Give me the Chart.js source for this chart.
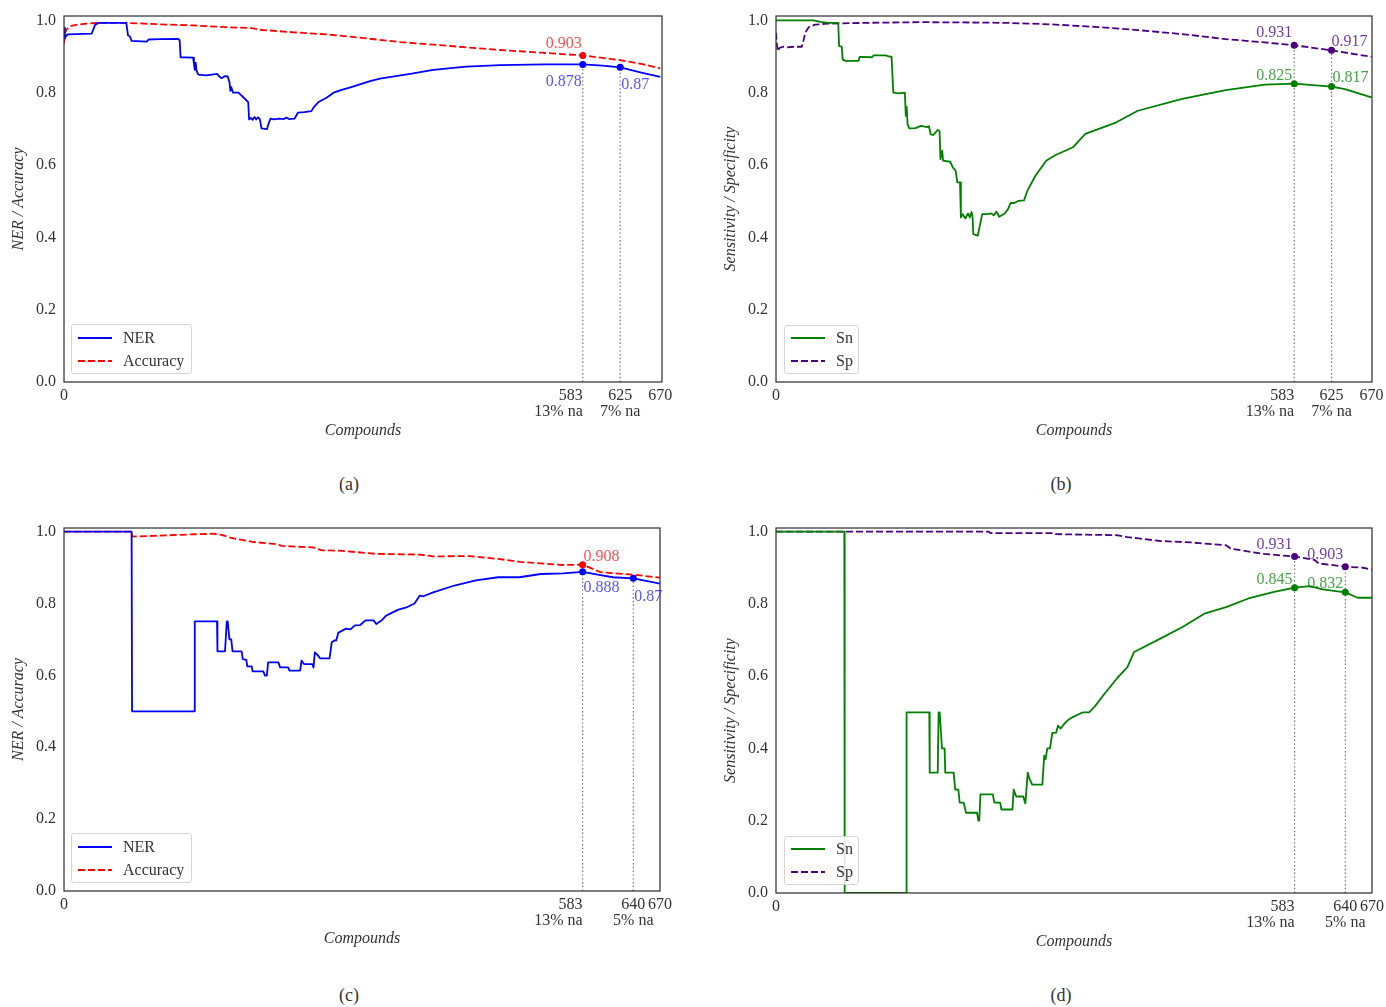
<!DOCTYPE html>
<html><head><meta charset="utf-8">
<script src="https://cdn.jsdelivr.net/npm/chart.js@4"></script>
<style>
html,body{margin:0;padding:0;background:#fff;}
#page{position:relative;width:1386px;height:1007px;overflow:hidden;font-family:'Liberation Serif','DejaVu Serif',serif;color:#333;}
#page canvas{position:absolute;}
.cap{position:absolute;width:80px;margin-left:-40px;text-align:center;font-size:18px;line-height:20px;}
.lg{position:absolute;box-sizing:border-box;border:1px solid #d4d4d4;border-radius:3px;background:rgba(255,255,255,0.85);}
.lg .it{position:absolute;left:0;right:0;height:20px;}
.lg svg{position:absolute;left:6px;top:8px;}
.lg span{position:absolute;left:51px;top:0;line-height:20px;font-size:16px;white-space:nowrap;}
</style></head>
<body><div id="page"></div>
<script>
// ---------------- DATA ----------------
const yTickValues = [0, 0.2, 0.4, 0.6, 0.8, 1.0];
const xTicksAB = [0, 583, 625, 670];
const xNotesAB = ['', '13% na', '7% na', ''];
const xTicksCD = [0, 583, 640, 670];
const xNotesCD = ['', '13% na', '5% na', ''];

// (a) NER / Accuracy
const nerA_x = [0,1,2,4,31,33,35,39,70,71,72,74,76,93,95,108,128,130,131,145,146,147,148,149,151,160,172,174,177,181,184,186,187,188,190,196,199,202,207,208,210,212,214,216,218,220,222,228,230,232,236,242,247,250,253,259,263,270,278,281,286,295,303,312,321,344,355,389,415,452,490,540,583,605,625,650,670];
const nerA_y = [0.98,0.95,0.955,0.961,0.963,0.975,0.988,0.993,0.993,0.975,0.958,0.956,0.943,0.941,0.947,0.948,0.949,0.945,0.898,0.897,0.880,0.863,0.883,0.860,0.850,0.848,0.852,0.846,0.840,0.846,0.845,0.828,0.805,0.815,0.800,0.800,0.793,0.786,0.774,0.726,0.730,0.725,0.733,0.726,0.732,0.727,0.701,0.699,0.715,0.728,0.726,0.728,0.727,0.731,0.727,0.728,0.745,0.746,0.749,0.761,0.774,0.786,0.800,0.808,0.814,0.832,0.839,0.852,0.863,0.872,0.876,0.878,0.878,0.875,0.870,0.855,0.844];
const accA_x = [0,1,3,7,15,25,40,70,108,145,183,209,220,258,295,321,378,434,490,540,583,625,650,670];
const accA_y = [0.935,0.965,0.975,0.984,0.988,0.991,0.993,0.993,0.989,0.986,0.981,0.979,0.974,0.967,0.961,0.955,0.940,0.929,0.918,0.910,0.903,0.890,0.879,0.867];
const markA_x = [583, 625];
const markA_ner = [0.878, 0.87];
const markA_accX = [583];
const markA_acc = [0.903];

// (b) Sensitivity / Specificity
const snB_x = [0,42,50,59,70,71,74,75,78,93,94,108,110,123,128,130,132,138,145,146,147,148,150,157,163,170,172,174,177,182,184,185,187,188,196,199,202,204,207,208,210,213,216,218,220,221,222,227,232,238,242,245,248,251,257,261,264,268,273,279,283,292,304,314,334,348,383,407,457,506,550,583,625,640,670];
const snB_y = [1.0,1.0,0.996,0.993,0.993,0.929,0.927,0.892,0.888,0.888,0.899,0.898,0.903,0.903,0.900,0.899,0.800,0.798,0.800,0.736,0.761,0.713,0.701,0.702,0.708,0.705,0.707,0.685,0.683,0.697,0.694,0.616,0.640,0.612,0.609,0.593,0.585,0.552,0.552,0.455,0.464,0.452,0.466,0.455,0.470,0.460,0.409,0.405,0.464,0.464,0.466,0.461,0.471,0.457,0.465,0.478,0.495,0.495,0.501,0.502,0.530,0.571,0.612,0.627,0.649,0.686,0.718,0.750,0.783,0.807,0.822,0.825,0.817,0.810,0.787];
const spB_x = [0,1,2,4,8,12,20,29,31,33,37,44,57,100,161,220,260,309,358,407,457,506,550,583,625,670];
const spB_y = [0.966,0.933,0.915,0.924,0.927,0.925,0.927,0.927,0.945,0.966,0.982,0.988,0.991,0.993,0.995,0.994,0.993,0.989,0.982,0.973,0.962,0.948,0.939,0.931,0.917,0.899];
const markB_x = [583, 625];
const markB_sn = [0.825, 0.817];
const markB_sp = [0.931, 0.917];

// (c) NER / Accuracy
const nerC_x = [0,76,76.5,146.5,147,172,172.5,181,183,184,186,188,189.5,199.7,201,205,206,211,212,224,226,228,229.5,241,243,252,253.5,265.5,267,270,279,280.5,282,285,288,298.5,301,304,306,308.5,317,322,327,333,339,348,351,358,362,366,376,386,394,400,404,415,439,463,488,512,536,561,583,600,617,640,670];
const nerC_y = [1.0,1.0,0.5,0.5,0.75,0.75,0.667,0.667,0.75,0.75,0.70,0.70,0.667,0.667,0.645,0.643,0.625,0.625,0.611,0.611,0.599,0.599,0.636,0.636,0.622,0.622,0.613,0.613,0.641,0.631,0.631,0.622,0.664,0.657,0.647,0.647,0.692,0.697,0.697,0.719,0.730,0.728,0.739,0.740,0.753,0.753,0.743,0.755,0.766,0.771,0.783,0.790,0.800,0.822,0.820,0.831,0.850,0.864,0.873,0.873,0.882,0.884,0.888,0.880,0.873,0.870,0.855];
const accC_x = [0,76,77,100,140,170,178,187,213,239,245,280,290,310,351,400,415,456,488,512,561,583,603,640,670];
const accC_y = [1.0,1.0,0.986,0.988,0.992,0.994,0.990,0.983,0.971,0.965,0.960,0.956,0.948,0.947,0.938,0.936,0.931,0.932,0.924,0.916,0.907,0.908,0.887,0.880,0.872];
const markC_x = [583, 640];
const markC_ner = [0.888, 0.87];
const markC_accX = [583];
const markC_acc = [0.908];

// (d) Sensitivity / Specificity
const snD_x = [0,76.8,77.2,146.4,146.8,172.3,172.8,181.8,182.8,184,186.6,189.5,190.3,199.7,201.5,205,206.5,211,213.6,226,227.5,228.5,229.8,243.7,245.5,252,253.4,265.8,267.2,270,278,280.3,283,285,288,299.4,301.5,303,305,308,310.6,315,317,320,324,328,333,345,352,358,368,383,395,402.6,432,457,481.5,506,531,560,583,600,614.5,640,654,670];
const snD_y = [1.0,1.0,0.0,0.0,0.5,0.5,0.333,0.333,0.5,0.5,0.4,0.4,0.333,0.333,0.286,0.286,0.25,0.25,0.222,0.222,0.2,0.2,0.273,0.273,0.25,0.25,0.231,0.231,0.286,0.267,0.267,0.248,0.333,0.316,0.3,0.3,0.38,0.37,0.4,0.4,0.443,0.444,0.463,0.455,0.468,0.478,0.486,0.5,0.5,0.515,0.547,0.593,0.625,0.667,0.704,0.736,0.773,0.791,0.815,0.833,0.845,0.849,0.840,0.832,0.817,0.817];
const spD_x = [0,239,241,312,314,383,395,408,432,467,506,511,546,583,605,610,640,660,670];
const spD_y = [1.0,1.0,0.996,0.996,0.993,0.990,0.985,0.981,0.974,0.970,0.962,0.953,0.939,0.931,0.922,0.912,0.903,0.900,0.895];
const markD_x = [583, 640];
const markD_sn = [0.845, 0.832];
const markD_sp = [0.931, 0.903];

// ---------------- STYLE / LAYOUT ----------------
const FONT = "'Liberation Serif','DejaVu Serif',serif";
const TXT = '#333333';
const BLUE = '#0000ff', RED = '#ff0000', GREEN = '#008000', PURPLE = '#4b0082';
const BLUE_T = 'rgba(40,40,255,0.8)', RED_T = 'rgba(255,30,30,0.8)', GREEN_T = 'rgba(20,140,20,0.8)', PURPLE_T = 'rgba(90,20,150,0.85)';
const DASH = [7, 3];

const panels = [
  { left:0, top:0, pad:{left:0, top:16, right:31, bottom:0}, yW:64, xH:78, xMax:672, yMax:1.012,
    yTitle:'NER / Accuracy', yTitlePad:9.4, xTitlePad:19.4,
    xTicks:xTicksAB, xNotes:xNotesAB, endAligned:583,
    series:[{label:'NER', xs:nerA_x, ys:nerA_y, color:BLUE, dash:[]},
            {label:'Accuracy', xs:accA_x, ys:accA_y, color:RED, dash:DASH}],
    marks:[{series:0, xs:markA_x, ys:markA_ner, text:BLUE_T, lab:[{a:'right',dx:-1,dy:17},{a:'left',dx:1,dy:17}]},
           {series:1, xs:markA_accX, ys:markA_acc, text:RED_T, lab:[{a:'right',dx:-1,dy:-12}]}],
    guideMark:0,
    legend:{left:71, top:324, w:121, h:50, rows:[12.5, 35.5]},
    caption:{text:'(a)', cx:349, cy:484} },
  { left:693, top:0, pad:{left:0, top:16, right:14, bottom:0}, yW:83, xH:78, xMax:670.5, yMax:1.012,
    yTitle:'Sensitivity / Specificity', yTitlePad:28.4, xTitlePad:19.4,
    xTicks:xTicksAB, xNotes:xNotesAB, endAligned:583,
    series:[{label:'Sn', xs:snB_x, ys:snB_y, color:GREEN, dash:[]},
            {label:'Sp', xs:spB_x, ys:spB_y, color:PURPLE, dash:DASH}],
    marks:[{series:1, xs:markB_x, ys:markB_sp, text:PURPLE_T, lab:[{a:'right',dx:-2,dy:-12},{a:'left',dx:0,dy:-9}]},
           {series:0, xs:markB_x, ys:markB_sn, text:GREEN_T, lab:[{a:'right',dx:-2,dy:-8},{a:'left',dx:1,dy:-9}]}],
    guideMark:0,
    legend:{left:784, top:325, w:75, h:49, rows:[12, 35]},
    caption:{text:'(b)', cx:1061, cy:484} },
  { left:0, top:503, pad:{left:0, top:25, right:33, bottom:0}, yW:64, xH:72, xMax:670, yMax:1.01,
    yTitle:'NER / Accuracy', yTitlePad:9.0, xTitlePad:14.4,
    xTicks:xTicksCD, xNotes:xNotesCD, endAligned:583,
    series:[{label:'NER', xs:nerC_x, ys:nerC_y, color:BLUE, dash:[]},
            {label:'Accuracy', xs:accC_x, ys:accC_y, color:RED, dash:DASH}],
    marks:[{series:0, xs:markC_x, ys:markC_ner, text:BLUE_T, lab:[{a:'left',dx:1,dy:16},{a:'left',dx:1,dy:18}]},
           {series:1, xs:markC_accX, ys:markC_acc, text:RED_T, lab:[{a:'left',dx:1,dy:-8}]}],
    guideMark:0,
    legend:{left:71, top:833, w:121, h:50, rows:[12.5, 36]},
    caption:{text:'(c)', cx:349, cy:995} },
  { left:693, top:503, pad:{left:0, top:25, right:14, bottom:0}, yW:83, xH:70, xMax:670, yMax:1.01,
    yTitle:'Sensitivity / Specificity', yTitlePad:28.1, xTitlePad:11.4,
    xTicks:xTicksCD, xNotes:xNotesCD, endAligned:583,
    series:[{label:'Sn', xs:snD_x, ys:snD_y, color:GREEN, dash:[]},
            {label:'Sp', xs:spD_x, ys:spD_y, color:PURPLE, dash:DASH}],
    marks:[{series:1, xs:markD_x, ys:markD_sp, text:PURPLE_T, lab:[{a:'right',dx:-2,dy:-12},{a:'right',dx:-2,dy:-12}]},
           {series:0, xs:markD_x, ys:markD_sn, text:GREEN_T, lab:[{a:'right',dx:-2,dy:-8},{a:'right',dx:-2,dy:-9}]}],
    guideMark:0,
    legend:{left:784, top:836, w:75, h:49, rows:[12, 35]},
    caption:{text:'(d)', cx:1061, cy:995} }
];

// ---------------- DRAW ----------------
const page = document.getElementById('page');
function pts(xs, ys){ return xs.map((x, i) => ({x: x, y: ys[i]})); }

const framePlugin = {
  id: 'frame',
  afterDatasetsDraw(chart) {
    const a = chart.chartArea, ctx = chart.ctx;
    ctx.save();
    ctx.strokeStyle = '#333333';
    ctx.lineWidth = 1.25;
    ctx.strokeRect(a.left, a.top, a.right - a.left, a.bottom - a.top);
    ctx.restore();
  }
};

function labelPlugin(p) {
  return {
    id: 'valueLabels',
    afterDatasetsDraw(chart) {
      const ctx = chart.ctx, sx = chart.scales.x, sy = chart.scales.y;
      ctx.save();
      ctx.font = '16px ' + FONT;
      ctx.textBaseline = 'middle';
      p.marks.forEach(m => {
        m.ys.forEach((v, i) => {
          const st = m.lab[i];
          ctx.fillStyle = m.text;
          ctx.textAlign = st.a;
          ctx.fillText(String(v), sx.getPixelForValue(m.xs[i]) + st.dx, sy.getPixelForValue(v) + st.dy);
        });
      });
      ctx.restore();
    }
  };
}

function tickLabel(p, v) {
  const i = p.xTicks.indexOf(v);
  const note = i >= 0 ? p.xNotes[i] : '';
  return note ? [String(v), note] : String(v);
}

panels.forEach((p, k) => {
  const canvas = document.createElement('canvas');
  canvas.width = 693; canvas.height = 460;
  canvas.style.left = p.left + 'px'; canvas.style.top = p.top + 'px';
  canvas.style.width = '693px'; canvas.style.height = '460px';
  page.appendChild(canvas);

  const datasets = [];
  p.marks.forEach(m => {
    const s = p.series[m.series];
    datasets.push({label: s.label + ' mark', data: pts(m.xs, m.ys), showLine: false,
      pointRadius: 3.5, pointHoverRadius: 3.5, pointBackgroundColor: s.color,
      pointBorderColor: s.color, pointBorderWidth: 0});
  });
  p.series.forEach(s => {
    datasets.push({label: s.label, data: pts(s.xs, s.ys), borderColor: s.color,
      borderWidth: 1.8, borderDash: s.dash, pointRadius: 0, fill: false, tension: 0,
      borderJoinStyle: 'round', borderCapStyle: 'butt'});
  });
  const g = p.marks[p.guideMark];
  g.xs.forEach((x, i) => {
    datasets.push({label: 'guide', data: pts([x, x], [0, g.ys[i]]), borderColor: '#6e6e6e',
      borderWidth: 1.2, borderDash: [1.4, 2.4], pointRadius: 0, fill: false});
  });

  const tickFont = {family: FONT, size: 16, lineHeight: 1};
  const titleFont = {family: FONT, size: 16, style: 'italic', lineHeight: 1.2};

  new Chart(canvas, {
    type: 'line',
    data: {datasets: datasets},
    options: {
      responsive: false, animation: false, devicePixelRatio: 1, events: [],
      layout: {padding: p.pad},
      plugins: {legend: {display: false}, tooltip: {enabled: false}, title: {display: false}},
      scales: {
        x: {type: 'linear', axis: 'x', position: 'bottom', weight: 1, min: 0, max: p.xMax,
          grid: {display: false, drawTicks: false}, border: {display: false},
          afterBuildTicks: sc => { sc.ticks = p.xTicks.filter(v => v !== p.endAligned).map(v => ({value: v})); },
          ticks: {autoSkip: false, maxRotation: 0, minRotation: 0, padding: 6, color: TXT, font: tickFont,
            callback: v => tickLabel(p, v)},
          title: {display: true, text: 'Compounds', color: TXT, font: titleFont, padding: {top: 0, bottom: p.xTitlePad}},
          afterFit: sc => { sc.height = p.xH; sc.paddingLeft = 0; sc.paddingRight = 0; }
        },
        // second x axis pinned at y = 0 only to carry the right-aligned tick label
        x2: {type: 'linear', axis: 'x', position: {y: 0}, min: 0, max: p.xMax,
          grid: {display: false, drawTicks: false}, border: {display: false},
          afterBuildTicks: sc => { sc.ticks = [{value: p.endAligned}]; },
          ticks: {autoSkip: false, maxRotation: 0, minRotation: 0, padding: 6, align: 'end', color: TXT, font: tickFont,
            callback: v => tickLabel(p, v)},
          title: {display: false},
          afterFit: sc => { sc.height = 0; sc.paddingLeft = 0; sc.paddingRight = 0; }
        },
        y: {type: 'linear', axis: 'y', position: 'left', min: 0, max: p.yMax,
          grid: {display: false, drawTicks: false}, border: {display: false},
          afterBuildTicks: sc => { sc.ticks = yTickValues.map(v => ({value: v})); },
          ticks: {padding: 8, color: TXT, font: tickFont, callback: v => v.toFixed(1)},
          title: {display: true, text: p.yTitle, color: TXT, font: titleFont, padding: {top: p.yTitlePad, bottom: 0}},
          afterFit: sc => { sc.width = p.yW; sc.paddingTop = 0; sc.paddingBottom = 0; }
        }
      }
    },
    plugins: [framePlugin, labelPlugin(p)]
  });

  // legend (HTML, built from the series styles)
  const L = p.legend;
  const lg = document.createElement('div');
  lg.className = 'lg';
  lg.style.left = L.left + 'px'; lg.style.top = L.top + 'px';
  lg.style.width = L.w + 'px'; lg.style.height = L.h + 'px';
  p.series.forEach((s, i) => {
    const it = document.createElement('div');
    it.className = 'it';
    it.style.top = (L.rows[i] - 10) + 'px';
    const dashAttr = s.dash.length ? ' stroke-dasharray="' + s.dash.join(',') + '"' : '';
    it.innerHTML = '<svg width="34" height="4"><line x1="0" y1="2" x2="34" y2="2" stroke="' + s.color +
      '" stroke-width="1.8"' + dashAttr + '/></svg><span>' + s.label + '</span>';
    lg.appendChild(it);
  });
  page.appendChild(lg);

  const cap = document.createElement('div');
  cap.className = 'cap';
  cap.style.left = p.caption.cx + 'px';
  cap.style.top = (p.caption.cy - 10) + 'px';
  cap.textContent = p.caption.text;
  page.appendChild(cap);
});
</script>
</body></html>
